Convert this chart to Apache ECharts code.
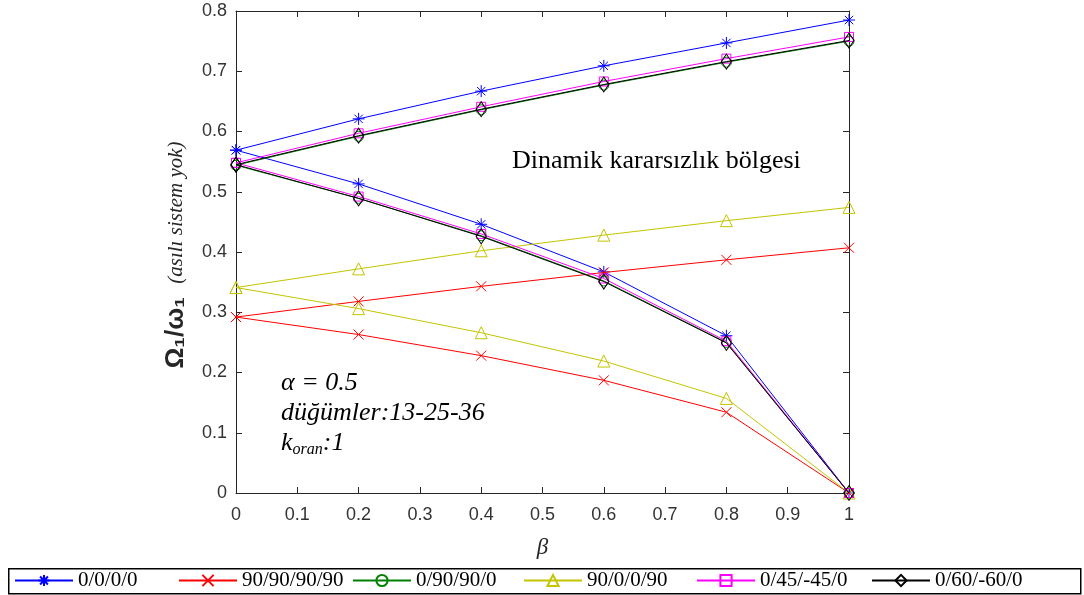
<!DOCTYPE html>
<html>
<head>
<meta charset="utf-8">
<script src="https://cdn.jsdelivr.net/npm/echarts@6/dist/echarts.min.js"></script>
<style>
  html, body { margin: 0; padding: 0; background: #fff; }
  #chart { width: 1084px; height: 595px; }
</style>
</head>
<body>
<div id="chart"></div>
<script>
  // beta değerleri (x ekseni)
  const betaVals = [0, 0.2, 0.4, 0.6, 0.8, 1];
  const xTicks = [0, 0.1, 0.2, 0.3, 0.4, 0.5, 0.6, 0.7, 0.8, 0.9, 1];
  const yTicks = [0, 0.1, 0.2, 0.3, 0.4, 0.5, 0.6, 0.7, 0.8];

  // laminasyon dizilimleri
  const layups = ['0/0/0/0', '90/90/90/90', '0/90/90/0', '90/0/0/90', '0/45/-45/0', '0/60/-60/0'];

  // üst kol (sınırın üst dalı)
  const upper0000 = [0.569, 0.621, 0.667, 0.709, 0.747, 0.785];
  const upper9090 = [0.292, 0.318, 0.343, 0.366, 0.387, 0.407];
  const upper0900 = [0.544, 0.592, 0.636, 0.677, 0.715, 0.750];
  const upper9009 = [0.341, 0.372, 0.402, 0.428, 0.452, 0.474];
  const upper0450 = [0.548, 0.597, 0.641, 0.683, 0.721, 0.757];
  const upper0600 = [0.545, 0.593, 0.637, 0.678, 0.716, 0.751];

  // alt kol
  const lower0000 = [0.569, 0.513, 0.446, 0.367, 0.261, 0];
  const lower9090 = [0.292, 0.263, 0.228, 0.187, 0.134, 0];
  const lower0900 = [0.544, 0.489, 0.427, 0.352, 0.250, 0];
  const lower9009 = [0.341, 0.306, 0.266, 0.219, 0.157, 0];
  const lower0450 = [0.548, 0.492, 0.430, 0.356, 0.252, 0];
  const lower0600 = [0.545, 0.489, 0.426, 0.351, 0.249, 0];

  const upperAll = [upper0000, upper9090, upper0900, upper9009, upper0450, upper0600];
  const lowerAll = [lower0000, lower9090, lower0900, lower9009, lower0450, lower0600];

  const colors = ['#0000ff', '#ff0000', '#008000', '#c4c400', '#ff00ff', '#000000'];
  const symbols = [
    'path://M5,0L5,10M0,5L10,5M1.5,1.5L8.5,8.5M8.5,1.5L1.5,8.5',
    'path://M0,0L10,10M10,0L0,10',
    'circle', 'triangle', 'rect', 'diamond'
  ];
  const symbolSizes = [12, 10, 10, 12, 9, [10, 15]];
  const legendLeft = [14, 178, 352, 523, 696, 871];

  const axisColor = '#262626';
  const tickFont = { fontFamily: 'Liberation Sans', fontSize: 18, color: '#333' };

  const myChart = echarts.init(document.getElementById('chart'));

  const toPts = arr => betaVals.map((b, i) => [b, arr[i]]);

  const series = [];
  layups.forEach((name, k) => {
    [upperAll[k], lowerAll[k]].forEach(arr => {
      series.push({
        name: name,
        type: 'line',
        data: toPts(arr),
        symbol: symbols[k],
        symbolSize: symbolSizes[k],
        showAllSymbol: true,
        lineStyle: { color: colors[k], width: 1 },
        itemStyle: { color: 'rgba(0,0,0,0)', borderColor: colors[k], borderWidth: 1 },
        emphasis: { disabled: true },
        z: 2 + k
      });
    });
  });

  const legends = layups.map((name, k) => ({
    data: [name],
    left: legendLeft[k],
    top: 570,
    padding: 0,
    itemWidth: 58,
    itemHeight: 14,
    selectedMode: false,
    textStyle: { fontFamily: 'Liberation Serif', fontSize: 21, color: '#000' }
  }));

  const frameAxis = {
    axisLine: { show: true, onZero: false, lineStyle: { color: axisColor } },
    axisTick: { show: true, inside: true, length: 6, lineStyle: { color: axisColor } },
    splitLine: { show: false }
  };

  const option = {
    animation: false,
    backgroundColor: '#fff',
    grid: { left: 236, right: 235, top: 11, bottom: 102 },
    legend: legends,
    xAxis: [Object.assign({
      type: 'value', min: 0, max: 1, interval: 0.1, position: 'bottom',
      name: 'β', nameLocation: 'middle', nameGap: 43,
      nameTextStyle: { fontFamily: 'Liberation Serif', fontStyle: 'italic', fontSize: 23, color: axisColor },
      axisLabel: Object.assign({ margin: 13 }, tickFont)
    }, frameAxis), Object.assign({
      type: 'value', min: 0, max: 1, interval: 0.1, position: 'top',
      axisLabel: { show: false }
    }, frameAxis)],
    yAxis: [Object.assign({
      type: 'value', min: 0, max: 0.8, interval: 0.1, position: 'left',
      axisLabel: Object.assign({ margin: 9 }, tickFont)
    }, frameAxis), Object.assign({
      type: 'value', min: 0, max: 0.8, interval: 0.1, position: 'right',
      axisLabel: { show: false }
    }, frameAxis)],
    graphic: [
      {
        type: 'rect', left: 8, top: 568, z: 0,
        shape: { width: 1072, height: 25 },
        style: { fill: '#fff', stroke: '#000', lineWidth: 1.5 }
      },
      {
        type: 'text', x: 176, y: 255, rotation: Math.PI / 2,
        style: {
          text: '{a|Ω₁/ω₁}    {b|(asılı sistem yok)}',
          align: 'center', verticalAlign: 'middle',
          rich: {
            a: { fontFamily: 'Liberation Sans', fontWeight: 'bold', fontSize: 26, fill: axisColor },
            b: { fontFamily: 'Liberation Serif', fontStyle: 'italic', fontSize: 21, fill: axisColor }
          }
        }
      },
      {
        type: 'text', x: 512, y: 161,
        style: {
          text: 'Dinamik kararsızlık bölgesi',
          fontFamily: 'Liberation Serif', fontSize: 26, fill: '#000',
          verticalAlign: 'middle'
        }
      },
      {
        type: 'text', x: 281, y: 368,
        style: {
          text: 'α = 0.5\ndüğümler:13-25-36\n{k|k}{s|oran}{k|:1}',
          fontFamily: 'Liberation Serif', fontStyle: 'italic', fontSize: 26, lineHeight: 30, fill: '#000',
          rich: {
            k: { fontFamily: 'Liberation Serif', fontStyle: 'italic', fontSize: 26, lineHeight: 30, fill: '#000' },
            s: { fontFamily: 'Liberation Serif', fontStyle: 'italic', fontSize: 16, lineHeight: 30, verticalAlign: 'bottom', padding: [10, 0, 0, 0], fill: '#000' }
          }
        }
      }
    ],
    series: series
  };

  myChart.setOption(option);
</script>
</body>
</html>
